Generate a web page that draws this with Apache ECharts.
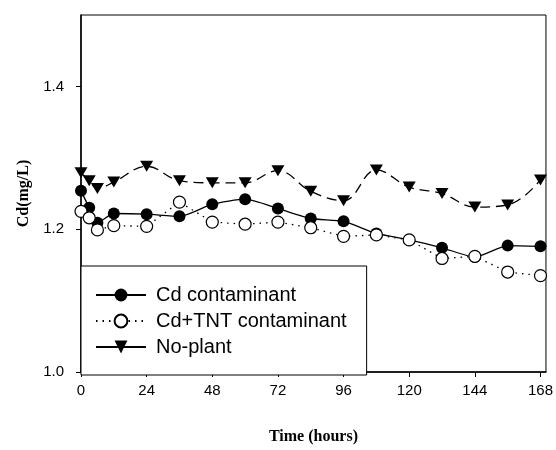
<!DOCTYPE html>
<html>
<head>
<meta charset="utf-8">
<script src="https://cdn.jsdelivr.net/npm/echarts@6/dist/echarts.min.js"></script>
<style>
  html, body { margin: 0; padding: 0; background: #fff; }
  #chart { width: 556px; height: 450px; }
</style>
</head>
<body>
<div id="chart"></div>
<script>
// Sampling times (hours)
const times = [0, 3, 6, 12, 24, 36, 48, 60, 72, 84, 96, 108, 120, 132, 144, 156, 168];
// Cd concentration (mg/L)
const cdOnly = [1.254, 1.230, 1.209, 1.222, 1.221, 1.218, 1.235, 1.242, 1.229, 1.215, 1.211, 1.194, 1.185, 1.174, 1.161, 1.177, 1.176];
const cdTnt = [1.225, 1.216, 1.199, 1.205, 1.204, 1.238, 1.210, 1.207, 1.210, 1.202, 1.190, 1.192, 1.185, 1.159, 1.162, 1.140, 1.135];
const noPlant = [1.279, 1.268, 1.257, 1.266, 1.288, 1.268, 1.265, 1.265, 1.282, 1.253, 1.240, 1.283, 1.259, 1.250, 1.231, 1.234, 1.269];
const xTicks = [0, 24, 48, 72, 96, 120, 144, 168];
const yTicks = [1.0, 1.2, 1.4];

const pairs = (vals) => times.map((t, i) => [t, vals[i]]);

const chart = echarts.init(document.getElementById('chart'));

const labelFont = {
  color: '#000',
  fontFamily: 'Liberation Sans, Arial, sans-serif',
  fontSize: 15,
};
const nameFont = {
  color: '#000',
  fontFamily: 'Liberation Serif, Times New Roman, serif',
  fontWeight: 'bold',
  fontSize: 16,
};

const option = {
  animation: false,
  backgroundColor: '#fff',
  grid: {
    left: 81,
    right: 9,
    top: 15,
    bottom: 76,
    show: true,
    borderColor: '#000',
    borderWidth: 1,
  },
  xAxis: {
    type: 'value',
    min: 0,
    max: 170,
    interval: 24,
    name: 'Time (hours)',
    nameLocation: 'middle',
    nameGap: 57,
    nameTextStyle: nameFont,
    splitLine: { show: false },
    axisLine: { lineStyle: { color: '#000', width: 1.5 } },
    axisTick: { length: 5, customValues: xTicks, lineStyle: { color: '#000' } },
    axisLabel: Object.assign({ margin: 11, customValues: xTicks }, labelFont),
  },
  yAxis: {
    type: 'value',
    min: 1.0,
    max: 1.5,
    interval: 0.1,
    name: 'Cd(mg/L)',
    nameLocation: 'middle',
    nameGap: 47,
    nameTextStyle: nameFont,
    splitLine: { show: false },
    axisLine: { show: true, lineStyle: { color: '#000', width: 1.5 } },
    axisTick: { length: 5, customValues: yTicks, lineStyle: { color: '#000' } },
    axisLabel: Object.assign({
      margin: 17,
      customValues: yTicks,
      formatter: (v) => v.toFixed(1),
    }, labelFont),
  },
  legend: {
    orient: 'vertical',
    left: 81,
    top: 266,
    padding: [19, 20, 18, 14],
    itemGap: 6,
    itemWidth: 50,
    itemHeight: 16,
    backgroundColor: '#fff',
    borderColor: '#000',
    borderWidth: 1,
    textStyle: {
      color: '#000',
      fontFamily: 'Liberation Sans, Arial, sans-serif',
      fontSize: 20,
      padding: [0, 0, 0, 5],
    },
    data: [
      { name: 'Cd contaminant' },
      { name: 'Cd+TNT contaminant' },
      { name: 'No-plant', lineStyle: { type: 'solid' } },
    ],
  },
  series: [
    {
      name: 'Cd contaminant',
      type: 'line',
      data: pairs(cdOnly),
      symbol: 'circle',
      symbolSize: 12,
      smooth: 0.2,
      itemStyle: { color: '#000' },
      lineStyle: { color: '#000', width: 1.3 },
    },
    {
      name: 'Cd+TNT contaminant',
      type: 'line',
      data: pairs(cdTnt),
      symbol: 'circle',
      symbolSize: 12,
      itemStyle: { color: '#fff', borderColor: '#000', borderWidth: 1.2 },
      lineStyle: { color: '#000', width: 1.3, type: [1.5, 5] },
    },
    {
      name: 'No-plant',
      type: 'line',
      data: pairs(noPlant),
      symbol: 'triangle',
      symbolRotate: 180,
      symbolSize: [13, 11],
      smooth: 0.4,
      itemStyle: { color: '#000' },
      lineStyle: { color: '#000', width: 1.3, type: [10, 6] },
    },
  ],
};

chart.setOption(option);
</script>
</body>
</html>
